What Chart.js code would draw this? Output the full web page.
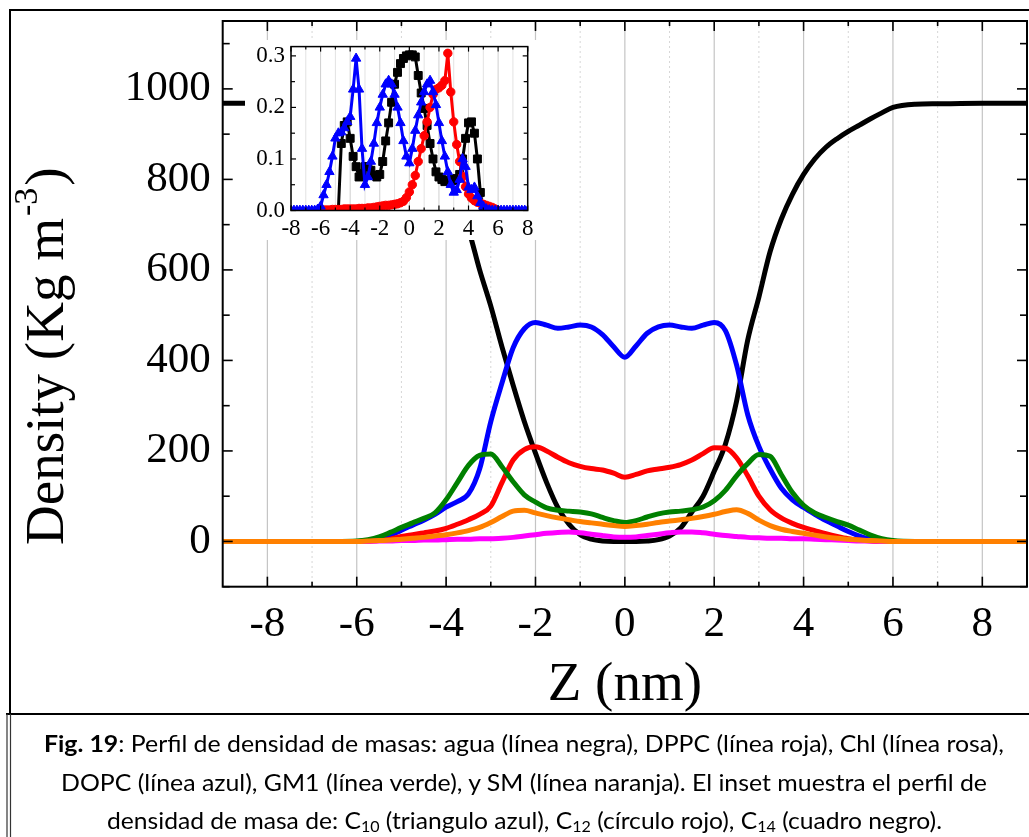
<!DOCTYPE html>
<html>
<head>
<meta charset="utf-8">
<script src="https://cdn.jsdelivr.net/npm/chart.js@4.4.1/dist/chart.umd.min.js"></script>
<style>
html,body{margin:0;padding:0;background:#fff;}
#wrap{position:relative;width:1029px;height:837px;overflow:hidden;background:#fff;}
canvas{position:absolute;}
#main{left:0;top:0;}
#inset{left:245px;top:40px;}
.cap{position:absolute;left:0;top:0;white-space:nowrap;font-family:Lato,"Open Sans",sans-serif;font-size:23px;line-height:23px;color:#000;transform-origin:0 0;}
.cap b{font-weight:700;}
.cap sub{font-size:15px;vertical-align:baseline;position:relative;top:3px;}
</style>
</head>
<body>
<div id="wrap">
<canvas id="main" width="1029" height="837"></canvas>
<canvas id="inset" width="292" height="200"></canvas>
<div class="cap" id="cap1"><b>Fig. 19</b>: Perfil de densidad de masas: agua (línea negra), DPPC (línea roja), Chl (línea rosa),</div>
<div class="cap" id="cap2">DOPC (línea azul), GM1 (línea verde), y SM (línea naranja). El inset muestra el perfil de</div>
<div class="cap" id="cap3">densidad de masa de: C<sub>10</sub> (triangulo azul), C<sub>12</sub> (círculo rojo), C<sub>14</sub> (cuadro negro).</div>
</div>
<script>
// ---------------- main chart data ----------------
const zMain = [-9,-8,-7,-6.5,-6,-5.75,-5.5,-5.25,-5,-4.75,-4.5,-4.25,-4,-3.75,-3.5,-3.25,-3,-2.75,-2.5,-2.25,-2,-1.75,-1.5,-1.25,-1,-0.75,-0.5,-0.25,0,0.25,0.5,0.75,1,1.25,1.5,1.75,2,2.25,2.5,2.75,3,3.25,3.5,3.75,4,4.25,4.5,4.75,5,5.25,5.5,5.75,6,6.5,7,8,9];
const water = [968,968,967,965,960,953,945,932,912,892,870,840,800,755,690,600,520,430,345,265,195,130,75,38,15,5,1,0,0,0,1,4,12,30,65,100,155,215,310,445,540,640,712,767,811,845,871,890,906,920,934,947,959,966,967,968,968];
const dopc  = [0,0,0,0,0,2,5,13,25,36,47,60,76,88,105,160,265,350,428,470,484,478,471,474,478,474,457,430,407,432,460,474,478,474,471,478,484,466,390,280,210,160,118,92,75,60,46,34,22,12,5,1,0,0,0,0,0];
const dppc  = [0,0,0,0,0,1,2,5,11,15,19,23,29,38,48,60,78,130,180,203,209,200,186,174,166,161,158,151,142,148,156,160,164,170,180,194,207,206,185,145,100,70,52,40,31,24,17,11,6,3,1,0,0,0,0,0,0];
const gm1   = [0,0,0,0,1,4,10,20,31,41,51,63,92,130,168,190,193,165,132,103,87,74,69,67,65,61,53,46,42,46,54,61,65,67,70,76,90,113,145,172,192,188,148,108,80,63,53,44,36,25,14,6,2,0,0,0,0];
const sm    = [0,0,0,0,0,1,2,3,5,7,9,12,15,19,24,31,42,55,67,69,63,57,52,48,44,41,38,35,33,35,38,42,45,48,51,55,60,66,70,62,47,35,27,22,18,14,10,7,5,3,2,1,0,0,0,0,0];
const chl   = [0,0,0,0,0,0,1,1,2,2,3,3,4,5,5,6,6,7,9,12,15,18,20,21,19,16,13,10,9,10,13,16,19,21,21,19,16,13,11,9,8,7,7,6,6,5,4,3,2,1,1,0,0,0,0,0,0];

const mainXMajor = [-8,-6,-4,-2,0,2,4,6,8];
const mainXMinor = [-7,-5,-3,-1,1,3,5,7];
const mainYMajor = [0,200,400,600,800,1000];
const mainYMinor = [-100,100,300,500,700,900,1100];

// ---------------- inset data ----------------
const zInset = [-8,-7.8,-7.6,-7.4,-7.2,-7,-6.8,-6.6,-6.4,-6.2,-6,-5.8,-5.6,-5.4,-5.2,-5,-4.8,-4.6,-4.4,-4.2,-4,-3.8,-3.6,-3.4,-3.2,-3,-2.8,-2.6,-2.4,-2.2,-2,-1.8,-1.6,-1.4,-1.2,-1,-0.8,-0.6,-0.4,-0.2,0,0.2,0.4,0.6,0.8,1,1.2,1.4,1.6,1.8,2,2.2,2.4,2.6,2.8,3,3.2,3.4,3.6,3.8,4,4.2,4.4,4.6,4.8,5,5.2,5.4,5.6,5.8,6,6.2,6.4,6.6,6.8,7,7.2,7.4,7.6,7.8,8];
const c10 = [0,0,0,0,0,0,0,0,0,0.002,0.008,0.03,0.05,0.075,0.105,0.14,0.15,0.152,0.16,0.172,0.182,0.235,0.295,0.235,0.12,0.05,0.065,0.095,0.13,0.17,0.2,0.225,0.245,0.252,0.245,0.225,0.2,0.17,0.135,0.105,0.092,0.12,0.155,0.185,0.21,0.23,0.245,0.252,0.23,0.205,0.17,0.135,0.105,0.075,0.05,0.035,0.04,0.06,0.1,0.085,0.045,0.04,0.045,0.028,0.015,0.008,0.003,0.001,0,0,0,0,0,0,0,0,0,0,0,0,0];
const c12 = [null,null,null,null,null,null,null,null,null,null,0,0.001,0.001,0.001,0.002,0.002,0.002,0.002,0.003,0.003,0.003,0.003,0.003,0.004,0.004,0.004,0.005,0.005,0.006,0.007,0.008,0.009,0.01,0.01,0.011,0.012,0.013,0.015,0.018,0.025,0.036,0.05,0.068,0.095,0.12,0.145,0.172,0.2,0.225,0.235,0.238,0.243,0.252,0.305,0.23,0.172,0.128,0.095,0.066,0.046,0.032,0.024,0.019,0.016,0.014,0.012,0.01,0.008,0.006,0.003,0,null,null,null,null,null,null,null,null,null,null];
const c14 = [null,null,null,null,null,null,null,null,null,null,null,null,null,null,null,null,0,0.13,0.165,0.172,0.14,0.105,0.085,0.065,0.072,0.085,0.085,0.078,0.068,0.065,0.07,0.095,0.135,0.17,0.21,0.245,0.268,0.285,0.295,0.3,0.302,0.302,0.298,0.262,0.228,0.198,0.165,0.13,0.1,0.075,0.065,0.06,0.056,0.058,0.06,0.058,0.062,0.07,0.1,0.14,0.17,0.172,0.15,0.1,0.035,0,null,null,null,null,null,null,null,null,null,null,null,null,null,null,null];

const insetXMajor = [-8,-6,-4,-2,0,2,4,6,8];
const insetXMinor = [-7,-5,-3,-1,1,3,5,7];
const insetYMajor = [0,0.1,0.2,0.3];
const insetYMinor = [0.05,0.15,0.25];

const SERIF = '"Liberation Serif","Times New Roman",serif';

function pts(xs, ys){ return xs.map((x,i)=>({x:x,y:ys[i]})).filter(p=>p.y!==null); }
function seg(ctx,x1,y1,x2,y2){ ctx.beginPath(); ctx.moveTo(x1,y1); ctx.lineTo(x2,y2); ctx.stroke(); }

function lineDs(label, ys, color, order){
  return {label, data: pts(zMain, ys), borderColor: color, backgroundColor: color, borderWidth: 5,
    pointRadius: 0, cubicInterpolationMode: 'monotone', order, borderJoinStyle:'round', borderCapStyle:'round'};
}

const mainDecor = {
  id: 'mainDecor',
  beforeDatasetsDraw(chart){
    const {ctx, chartArea:a, scales:{x}} = chart;
    ctx.save();
    ctx.lineWidth = 1.2; ctx.strokeStyle = '#c4c4c4'; ctx.setLineDash([]);
    mainXMajor.forEach(v=>{ const p = x.getPixelForValue(v); seg(ctx,p,a.top,p,a.bottom); });
    ctx.lineWidth = 1; ctx.strokeStyle = '#d6d6d6'; ctx.setLineDash([2,3]);
    mainXMinor.forEach(v=>{ const p = x.getPixelForValue(v); seg(ctx,p,a.top,p,a.bottom); });
    ctx.restore();
  },
  afterDatasetsDraw(chart){
    const {ctx, chartArea:a, scales:{x,y}} = chart;
    ctx.save();
    ctx.strokeStyle = '#000'; ctx.lineWidth = 2; ctx.setLineDash([]);
    ctx.strokeRect(a.left, a.top, a.right-a.left, a.bottom-a.top);
    ctx.lineWidth = 1.6;
    const tx = (v,len)=>{ const p = x.getPixelForValue(v); seg(ctx,p,a.bottom,p,a.bottom-len); seg(ctx,p,a.top,p,a.top+len); };
    const ty = (v,len)=>{ const p = y.getPixelForValue(v); seg(ctx,a.left,p,a.left+len,p); seg(ctx,a.right,p,a.right-len,p); };
    mainXMajor.forEach(v=>tx(v,10)); mainXMinor.forEach(v=>tx(v,5));
    mainYMajor.forEach(v=>ty(v,10)); mainYMinor.forEach(v=>ty(v,7));
    ctx.restore();
  },
  afterDraw(chart){
    const {ctx} = chart;
    ctx.save();
    ctx.fillStyle = '#000';
    ctx.translate(63, 545); ctx.rotate(-Math.PI/2);
    ctx.textAlign = 'left'; ctx.textBaseline = 'alphabetic';
    ctx.font = '55px ' + SERIF;
    const t1 = 'Density (Kg m';
    ctx.fillText(t1, 0, 0);
    const w1 = ctx.measureText(t1).width;
    ctx.font = '34px ' + SERIF;
    ctx.fillText('-3', w1 + 2, -26);
    const w2 = ctx.measureText('-3').width;
    ctx.font = '55px ' + SERIF;
    ctx.fillText(')', w1 + 4 + w2, 0);
    ctx.restore();
    ctx.save();
    ctx.fillStyle = '#000';
    ctx.font = '55px ' + SERIF; ctx.textAlign = 'center'; ctx.textBaseline = 'alphabetic';
    ctx.fillText('Z (nm)', (chart.chartArea.left + chart.chartArea.right)/2, 700);
    ctx.strokeStyle = '#000'; ctx.lineWidth = 2;
    ctx.beginPath(); ctx.moveTo(1040,10); ctx.lineTo(10,10); ctx.lineTo(10,714); ctx.stroke();
    seg(ctx, 6, 714, 1040, 714);
    ctx.lineWidth = 1.2; ctx.strokeStyle = '#333';
    seg(ctx, 7, 714, 7, 840); seg(ctx, 10.5, 714, 10.5, 840);
    ctx.restore();
  }
};

new Chart(document.getElementById('main'), {
  type: 'scatter',
  data: { datasets: [
    lineDs('agua', water, '#000000', 6),
    lineDs('DOPC', dopc, '#0000ff', 5),
    lineDs('DPPC', dppc, '#ff0000', 4),
    lineDs('GM1', gm1, '#008000', 3),
    lineDs('Chl', chl, '#ff00ff', 2),
    lineDs('SM', sm, '#ff8000', 1)
  ]},
  options: {
    responsive: false, animation: false, devicePixelRatio: 1,
    showLine: true,
    layout: { padding: { top: 21, right: 2, bottom: 190.3, left: 0 } },
    plugins: { legend: { display: false }, tooltip: { enabled: false } },
    scales: {
      x: { type: 'linear', min: -9, max: 9,
        grid: { display: false, drawTicks: false }, border: { display: false },
        afterBuildTicks: s => { s.ticks = mainXMajor.map(v=>({value:v})); },
        afterFit: s => { s.height = 60; s.paddingLeft = 0; s.paddingRight = 0; },
        ticks: { autoSkip: false, maxRotation: 0, padding: 12, color: '#000', font: { family: SERIF, size: 43 },
          callback: v => String(v) } },
      y: { type: 'linear', min: -100, max: 1150,
        grid: { display: false, drawTicks: false }, border: { display: false },
        afterBuildTicks: s => { s.ticks = mainYMajor.map(v=>({value:v})); },
        afterFit: s => { s.width = 222.7; s.paddingTop = 0; s.paddingBottom = 0; },
        ticks: { autoSkip: false, padding: 12, color: '#000', font: { family: SERIF, size: 43 },
          callback: v => String(v) } }
    }
  },
  plugins: [mainDecor]
});

// ---------------- inset ----------------
const insetDecor = {
  id: 'insetDecor',
  beforeDraw(chart){
    const {ctx} = chart; ctx.save(); ctx.fillStyle = '#fff'; ctx.fillRect(0,0,chart.width,chart.height); ctx.restore();
  },
  beforeDatasetsDraw(chart){
    const {ctx, chartArea:a, scales:{x}} = chart;
    ctx.save(); ctx.lineWidth = 1;
    ctx.strokeStyle = '#cfcfcf';
    insetXMajor.forEach(v=>{ const p = x.getPixelForValue(v); seg(ctx,p,a.top,p,a.bottom); });
    ctx.strokeStyle = '#e2e2e2';
    insetXMinor.forEach(v=>{ const p = x.getPixelForValue(v); seg(ctx,p,a.top,p,a.bottom); });
    ctx.restore();
  },
  afterDatasetsDraw(chart){
    const {ctx, chartArea:a, scales:{x,y}} = chart;
    ctx.save(); ctx.strokeStyle = '#000'; ctx.lineWidth = 1.5;
    ctx.strokeRect(a.left, a.top, a.right-a.left, a.bottom-a.top);
    ctx.lineWidth = 1.2;
    const tx = (v,len)=>{ const p = x.getPixelForValue(v); seg(ctx,p,a.bottom,p,a.bottom-len); seg(ctx,p,a.top,p,a.top+len); };
    const ty = (v,len)=>{ const p = y.getPixelForValue(v); seg(ctx,a.left,p,a.left+len,p); seg(ctx,a.right,p,a.right-len,p); };
    insetXMajor.forEach(v=>tx(v,5)); insetXMinor.forEach(v=>tx(v,3));
    insetYMajor.forEach(v=>ty(v,5)); insetYMinor.forEach(v=>ty(v,4));
    ctx.restore();
  }
};

function insetDs(label, ys, color, style, radius, order){
  return {label, data: pts(zInset, ys), borderColor: color, backgroundColor: color, borderWidth: 3,
    pointStyle: style, pointRadius: radius, pointBorderWidth: 1, pointBorderColor: color, pointBackgroundColor: color,
    tension: 0, order};
}

new Chart(document.getElementById('inset'), {
  type: 'scatter',
  data: { datasets: [
    insetDs('C14', c14, '#000000', 'rect', 5.6, 3),
    insetDs('C12', c12, '#ff0000', 'circle', 4.2, 2),
    insetDs('C10', c10, '#0000ff', 'triangle', 5.4, 1)
  ]},
  options: {
    responsive: false, animation: false, devicePixelRatio: 1,
    showLine: true,
    layout: { padding: { top: 5, right: 9.3, bottom: 0, left: 0 } },
    plugins: { legend: { display: false }, tooltip: { enabled: false } },
    scales: {
      x: { type: 'linear', min: -8, max: 8,
        grid: { display: false, drawTicks: false }, border: { display: false },
        afterBuildTicks: s => { s.ticks = insetXMajor.map(v=>({value:v})); },
        afterFit: s => { s.height = 29.5; s.paddingLeft = 0; s.paddingRight = 0; },
        ticks: { autoSkip: false, maxRotation: 0, padding: 5, color: '#000', font: { family: SERIF, size: 23 },
          callback: v => String(v) } },
      y: { type: 'linear', min: 0, max: 0.318,
        grid: { display: false, drawTicks: false }, border: { display: false },
        afterBuildTicks: s => { s.ticks = insetYMajor.map(v=>({value:v})); },
        afterFit: s => { s.width = 46; s.paddingTop = 0; s.paddingBottom = 0; },
        ticks: { autoSkip: false, padding: 6, color: '#000', font: { family: SERIF, size: 23 },
          callback: v => Number(v).toFixed(1) } }
    }
  },
  plugins: [insetDecor]
});

// ---------------- caption layout ----------------
const capSpec = [{id:'cap1', w:960, base:752}, {id:'cap2', w:926, base:791}, {id:'cap3', w:835, base:829}];
const capCenter = 524;
function layoutCaption(){
  capSpec.forEach(c=>{
    const el = document.getElementById(c.id);
    el.style.transform = 'none';
    const w = el.getBoundingClientRect().width;
    el.style.left = (capCenter - c.w/2) + 'px';
    el.style.top = (c.base - 20.4) + 'px';
    el.style.transform = 'scaleX(' + (c.w / w) + ')';
  });
}
layoutCaption();
if (document.fonts && document.fonts.ready) document.fonts.ready.then(layoutCaption);
</script>
</body>
</html>
